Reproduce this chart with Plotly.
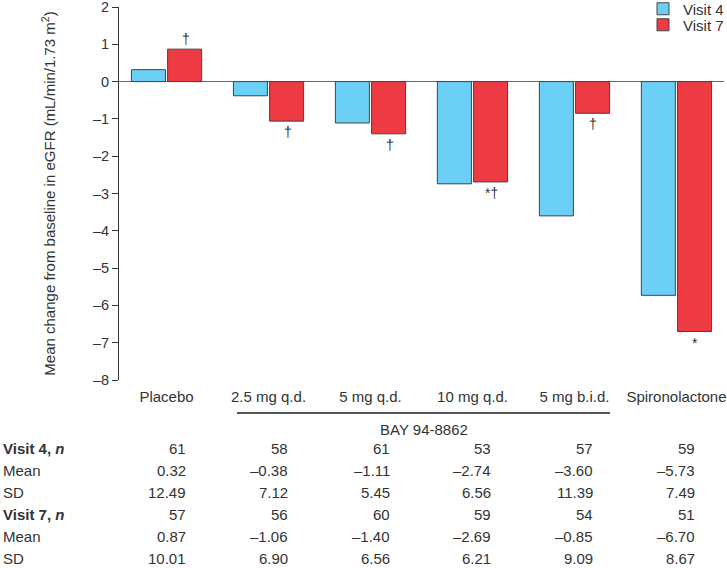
import plotly.graph_objects as go

# ---------------- data ----------------
categories = ["Placebo", "2.5 mg q.d.", "5 mg q.d.", "10 mg q.d.", "5 mg b.i.d.", "Spironolactone"]
visit4_n = [61, 58, 61, 53, 57, 59]
visit4_mean = [0.32, -0.38, -1.11, -2.74, -3.60, -5.73]
visit4_sd = [12.49, 7.12, 5.45, 6.56, 11.39, 7.49]
visit7_n = [57, 56, 60, 59, 54, 51]
visit7_mean = [0.87, -1.06, -1.40, -2.69, -0.85, -6.70]
visit7_sd = [10.01, 6.90, 6.56, 6.21, 9.09, 8.67]
visit7_marks = ["†", "†", "†", "*†", "†", "*"]
y_tick_vals = [2, 1, 0, -1, -2, -3, -4, -5, -6, -7, -8]
y_tick_text = ["2", "1", "0", "–1", "–2", "–3", "–4", "–5", "–6", "–7", "–8"]
row_labels = ["<b>Visit 4, <i>n</i></b>", "Mean", "SD", "<b>Visit 7, <i>n</i></b>", "Mean", "SD"]
group_label = "BAY 94-8862"
y_title = "Mean change from baseline in eGFR (mL/min/1.73 m<sup>2</sup>)"

# ---------------- layout geometry (pixels) ----------------
W, H = 727, 568
ML, MR, MT, MB = 119, 3, 7, 188
PW = W - ML - MR
PH = H - MT - MB
FONT = "Arial, Liberation Sans, Helvetica, sans-serif"
TXT = "#333333"
BLUE = "#6BCFF6"
RED = "#EE3B43"
EDGE = "#444444"


def px_x(p):
    return (p - ML) / PW


def px_y(p):
    return (H - MB - p) / PH


def fmt_mean(v):
    return f"{v:.2f}".replace("-", "–")


def fmt_sd(v):
    return f"{v:.2f}"


fig = go.Figure()
fig.add_trace(go.Bar(
    x=categories, y=visit4_mean, name="Visit 4", legend="legend",
    marker=dict(color=BLUE, line=dict(color=EDGE, width=1)),
    hoverinfo="skip",
))
fig.add_trace(go.Bar(
    x=categories, y=visit7_mean, name="Visit 7", legend="legend2",
    marker=dict(color=RED, line=dict(color=EDGE, width=1)),
    hoverinfo="skip",
))

annotations = []
# significance marks on Visit 7 bars
for cat, v, m in zip(categories, visit7_mean, visit7_marks):
    above = v > 0
    annotations.append(dict(
        x=cat, y=v, xref="x", yref="y", text=m, showarrow=False,
        xshift=19, yanchor="bottom" if above else "top",
        yshift=0 if above else -1,
        font=dict(family=FONT, size=14, color=TXT),
    ))

# table rows
rows = [
    [str(v) for v in visit4_n],
    [fmt_mean(v) for v in visit4_mean],
    [fmt_sd(v) for v in visit4_sd],
    [str(v) for v in visit7_n],
    [fmt_mean(v) for v in visit7_mean],
    [fmt_sd(v) for v in visit7_sd],
]
row_y = [449, 470.8, 492.6, 514.4, 536.2, 558]
for lab, vals, ry in zip(row_labels, rows, row_y):
    annotations.append(dict(
        x=px_x(1), y=px_y(ry), xref="paper", yref="paper", text=lab,
        showarrow=False, xanchor="left", yanchor="middle",
        font=dict(family=FONT, size=15, color=TXT),
    ))
    for cat, t in zip(categories, vals):
        annotations.append(dict(
            x=cat, y=px_y(ry), xref="x", yref="paper", text=t,
            showarrow=False, xanchor="right", yanchor="middle", xshift=21,
            font=dict(family=FONT, size=15, color=TXT),
        ))

# group bracket label
annotations.append(dict(
    x=(px_x(237) + px_x(610)) / 2, y=px_y(429), xref="paper", yref="paper",
    text=group_label, showarrow=False, xanchor="center", yanchor="middle",
    font=dict(family=FONT, size=15, color=TXT),
))

shapes = [dict(
    type="line", xref="paper", yref="paper",
    x0=px_x(237), x1=px_x(610), y0=px_y(413), y1=px_y(413),
    line=dict(color="#555555", width=2),
)]

legend_common = dict(
    xanchor="left", yanchor="middle",
    font=dict(family=FONT, size=15, color=TXT),
    bgcolor="rgba(0,0,0,0)", borderwidth=0, itemwidth=30,
)

fig.update_layout(
    width=W, height=H,
    margin=dict(l=ML, r=MR, t=MT, b=MB, autoexpand=False),
    paper_bgcolor="white", plot_bgcolor="white",
    barmode="group", bargap=0.29, bargroupgap=0.06,
    font=dict(family=FONT, size=15, color=TXT),
    showlegend=True,
    legend=dict(x=px_x(643), y=px_y(9), **legend_common),
    legend2=dict(x=px_x(643), y=px_y(25), **legend_common),
    xaxis=dict(
        type="category", range=[-0.466, 5.466],
        showline=False, showgrid=False, zeroline=False, ticks="",
        tickfont=dict(family=FONT, size=15, color=TXT),
        ticklabelstandoff=6,
        fixedrange=True,
    ),
    yaxis=dict(
        range=[-8, 2], tickvals=y_tick_vals, ticktext=y_tick_text,
        showline=True, linecolor="#333333", linewidth=1,
        ticks="outside", ticklen=6, tickcolor="#333333", tickwidth=1,
        ticklabeloverflow="allow",
        showgrid=False, zeroline=True, zerolinecolor="#666666", zerolinewidth=1,
        tickfont=dict(family=FONT, size=14.5, color=TXT),
        title=dict(text=y_title, font=dict(family=FONT, size=15, color=TXT), standoff=33),
        automargin=False, fixedrange=True,
    ),
    annotations=annotations,
    shapes=shapes,
)

fig.write_html(
    "out.html",
    config=dict(displayModeBar=False, staticPlot=False),
    post_script="document.body.style.margin='0';document.body.style.overflow='hidden';",
)
